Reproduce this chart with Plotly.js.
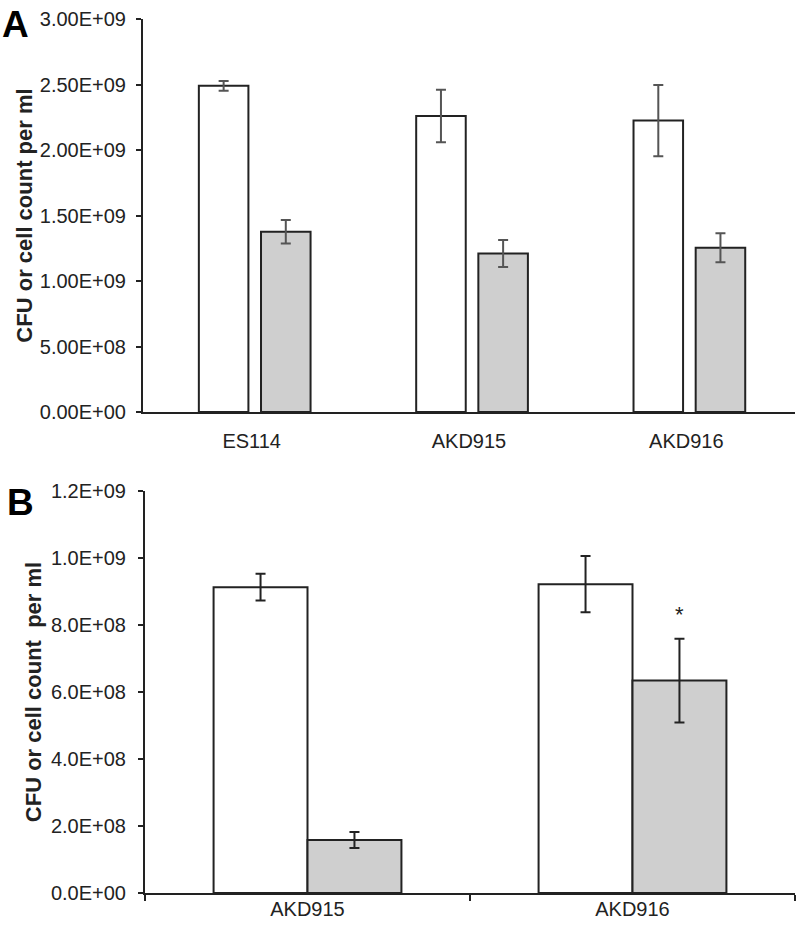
<!DOCTYPE html>
<html><head><meta charset="utf-8">
<script src="https://cdn.plot.ly/plotly-3.0.1.min.js"></script>
<style>html,body{margin:0;padding:0;background:#fff}</style>
</head><body><div id="chart" style="width:799px;height:930px"></div>
<script>
// ---- Panel A data ----
const categoriesA = ['ES114', 'AKD915', 'AKD916'];
const whiteA = [2.49e9, 2.26e9, 2.225e9];
const whiteErrA = [0.037e9, 0.2e9, 0.272e9];
const grayA = [1.376e9, 1.21e9, 1.254e9];
const grayErrA = [0.09e9, 0.103e9, 0.11e9];
const tickValsA = [0, 5e8, 1e9, 1.5e9, 2e9, 2.5e9, 3e9];
const tickTextA = ['0.00E+00', '5.00E+08', '1.00E+09', '1.50E+09', '2.00E+09', '2.50E+09', '3.00E+09'];

// ---- Panel B data ----
const categoriesB = ['AKD915', 'AKD916'];
const whiteB = [0.913e9, 0.922e9];
const whiteErrB = [0.04e9, 0.084e9];
const grayB = [0.158e9, 0.634e9];
const grayErrB = [0.024e9, 0.125e9];
const significantB = ['', '*'];
const tickValsB = [0, 2e8, 4e8, 6e8, 8e8, 1e9, 1.2e9];
const tickTextB = ['0.0E+00', '2.0E+08', '4.0E+08', '6.0E+08', '8.0E+08', '1.0E+09', '1.2E+09'];

const titleA = 'CFU or cell count per ml';
const titleB = 'CFU or cell count  per ml';

// ---- styles ----
const W = 799, H = 930;
const ink = '#222222';
const grayFill = '#cfcfcf';
const font = 'Liberation Sans, Arial, sans-serif';
const barLine = {color: ink, width: 2};
const wA = 0.228, offWA = -0.243, offGA = 0.043;
const wB = 0.289, offWB = -0.289, offGB = 0;

const traces = [
  {type: 'bar', x: categoriesA, y: whiteA, xaxis: 'x', yaxis: 'y', width: wA, offset: offWA,
   marker: {color: '#ffffff', line: barLine},
   error_y: {type: 'data', array: whiteErrA, color: '#555555', thickness: 2, width: 5}, hoverinfo: 'none'},
  {type: 'bar', x: categoriesA, y: grayA, xaxis: 'x', yaxis: 'y', width: wA, offset: offGA,
   marker: {color: grayFill, line: barLine},
   error_y: {type: 'data', array: grayErrA, color: '#555555', thickness: 2, width: 5}, hoverinfo: 'none'},
  {type: 'bar', x: categoriesB, y: whiteB, xaxis: 'x2', yaxis: 'y2', width: wB, offset: offWB,
   marker: {color: '#ffffff', line: barLine},
   error_y: {type: 'data', array: whiteErrB, color: ink, thickness: 2, width: 5}, hoverinfo: 'none'},
  {type: 'bar', x: categoriesB, y: grayB, xaxis: 'x2', yaxis: 'y2', width: wB, offset: offGB,
   marker: {color: grayFill, line: barLine},
   error_y: {type: 'data', array: grayErrB, color: ink, thickness: 2, width: 5}, hoverinfo: 'none'}
];

const tickFont = {family: font, size: 20, color: ink};
const titleFont = {family: font, size: 22, color: ink, weight: 'bold'};

const annotations = [
  {xref: 'paper', yref: 'paper', x: 0 / W, y: 1 - 2 / H, xanchor: 'left', yanchor: 'top',
   text: '<b>A</b>', showarrow: false, font: {family: font, size: 37, color: '#000'}},
  {xref: 'paper', yref: 'paper', x: 5 / W, y: 1 - 480 / H, xanchor: 'left', yanchor: 'top',
   text: '<b>B</b>', showarrow: false, font: {family: font, size: 37, color: '#000'}}
];
significantB.forEach((s, i) => {
  if (s) annotations.push({xref: 'x2', yref: 'y2', x: i + offGB + wB / 2, y: grayB[i] + grayErrB[i],
    yshift: 24, text: s, showarrow: false, font: {family: font, size: 22, color: ink}});
});

const yCommon = {showline: true, linecolor: ink, linewidth: 2, ticks: 'outside', ticklen: 5, tickwidth: 2,
  tickcolor: ink, showgrid: false, zeroline: false, tickfont: tickFont};

const layout = {
  width: W, height: H, margin: {l: 0, r: 0, t: 0, b: 0},
  paper_bgcolor: '#fff', plot_bgcolor: '#fff', showlegend: false, barmode: 'group',
  font: {family: font, color: ink},
  xaxis: {domain: [143 / W, 795 / W], anchor: 'y', type: 'category', range: [-0.5, 2.5],
    showline: true, linecolor: ink, linewidth: 2, ticks: '', showgrid: false, tickfont: tickFont,
    ticklabelstandoff: 10},
  yaxis: Object.assign({}, yCommon, {domain: [1 - 412 / H, 1 - 19 / H], anchor: 'x', range: [0, 3e9],
    tickvals: tickValsA, ticktext: tickTextA, ticklabelstandoff: 6,
    title: {text: titleA, font: titleFont, standoff: 1}}),
  xaxis2: {domain: [145 / W, 795 / W], anchor: 'y2', type: 'category', range: [-0.5, 1.5],
    showline: true, linecolor: ink, linewidth: 2, ticks: 'outside', tickson: 'boundaries', ticklen: 6,
    tickwidth: 2, tickcolor: ink, showgrid: false, tickfont: tickFont, ticklabelstandoff: -3},
  yaxis2: Object.assign({}, yCommon, {domain: [1 - 893 / H, 1 - 491 / H], anchor: 'x2', range: [0, 1.2e9],
    tickvals: tickValsB, ticktext: tickTextB, ticklabelstandoff: 8,
    title: {text: titleB, font: titleFont, standoff: 3}}),
  annotations: annotations
};

Plotly.newPlot('chart', traces, layout, {displayModeBar: false, staticPlot: true});
</script>
</body></html>
